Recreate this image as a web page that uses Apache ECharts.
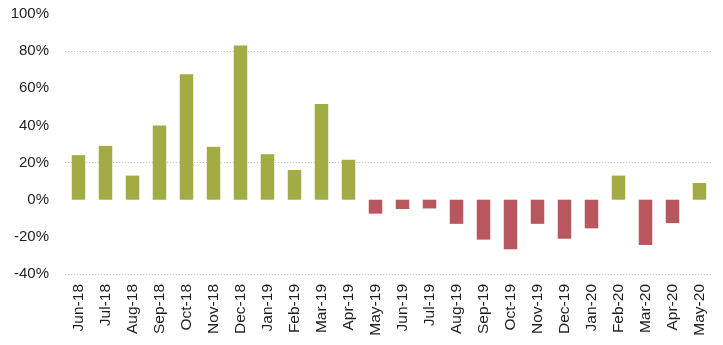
<!DOCTYPE html>
<html>
<head>
<meta charset="utf-8">
<script src="https://cdn.jsdelivr.net/npm/echarts@6/dist/echarts.min.js"></script>
<style>
  html, body { margin: 0; padding: 0; background: #fff; }
  #chart { width: 723px; height: 345px; }
</style>
</head>
<body>
<div id="chart"></div>
<script>
// Monthly change, in percent
const months = ['Jun-18','Jul-18','Aug-18','Sep-18','Oct-18','Nov-18','Dec-18','Jan-19','Feb-19','Mar-19','Apr-19','May-19',
                'Jun-19','Jul-19','Aug-19','Sep-19','Oct-19','Nov-19','Dec-19','Jan-20','Feb-20','Mar-20','Apr-20','May-20'];
const changePct = [24, 29, 13, 40, 67.5, 28.5, 83, 24.5, 16, 51.5, 21.5, -7.5,
                   -5, -4.7, -13, -21.5, -26.7, -13, -21, -15.4, 13, -24.4, -12.6, 9];

// y-axis range and step
const yMin = -40, yMax = 100, yStep = 20;
// only a few horizontal guides are drawn (at -40, 20 and 80)
const guideValues = [-40, 20, 80];

const GREEN = '#a2ab44';
const RED = '#b9575f';

const gridColors = [];
for (let v = yMin; v <= yMax; v += yStep) {
  gridColors.push(guideValues.includes(v) ? '#c4c4c4' : 'rgba(0,0,0,0)');
}

const chart = echarts.init(document.getElementById('chart'));
chart.setOption({
  animation: false,
  backgroundColor: '#ffffff',
  grid: { left: 65, right: 10, top: 14, bottom: 71 },
  xAxis: {
    type: 'category',
    data: months,
    axisLine: { show: false },
    axisTick: { show: false },
    axisLabel: {
      interval: 0,
      rotate: 90,
      margin: 10,
      fontFamily: 'Liberation Sans, Arial, sans-serif',
      fontSize: 15.5,
      color: '#1e1e1e'
    }
  },
  yAxis: {
    type: 'value',
    min: yMin,
    max: yMax,
    interval: yStep,
    axisLine: { show: false },
    axisTick: { show: false },
    axisLabel: {
      margin: 16,
      formatter: v => v + '%',
      fontFamily: 'Liberation Sans, Arial, sans-serif',
      fontSize: 15,
      color: '#1e1e1e'
    },
    splitLine: {
      show: true,
      lineStyle: { color: gridColors, type: [1, 2], width: 1 }
    }
  },
  series: [{
    type: 'bar',
    data: changePct,
    barWidth: '50%',
    itemStyle: {
      color: p => (p.value >= 0 ? GREEN : RED)
    }
  }]
});
</script>
</body>
</html>
